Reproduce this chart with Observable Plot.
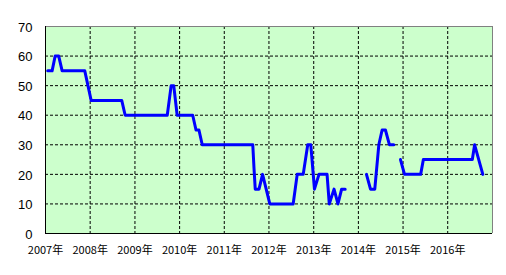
<!DOCTYPE html>
<html><head><meta charset="utf-8">
<script src="https://cdn.jsdelivr.net/npm/d3@7"></script>
<script src="https://cdn.jsdelivr.net/npm/@observablehq/plot@0.6"></script>
<style>html,body{margin:0;padding:0;background:#fff}</style>
</head><body><div id="chart"></div>
<script>
const dates = ["2007-01-19","2007-02-24","2007-03-21","2007-04-19","2007-05-17","2007-11-18",
  "2008-01-09","2008-09-15","2008-10-13",
  "2009-09-22","2009-10-24","2009-11-14","2009-12-12",
  "2010-04-18","2010-05-15","2010-06-08","2010-07-05",
  "2011-08-22","2011-09-01","2011-09-11","2011-10-12","2011-11-10",
  "2012-01-08","2012-07-17","2012-08-19","2012-10-07","2012-11-13","2012-12-08",
  "2013-01-07","2013-02-13","2013-04-20","2013-05-08","2013-06-16","2013-07-18","2013-08-17","2013-09-15",
  "2013-12-01",
  "2014-03-08","2014-04-10","2014-05-15","2014-06-17","2014-07-14","2014-08-10","2014-09-12","2014-10-17",
  "2014-11-15",
  "2014-12-11","2015-01-13","2015-05-25","2015-06-16","2016-07-20","2016-08-08","2016-10-14"];
const values = [55,55,60,60,55,55,
  45,45,40,
  40,50,50,40,
  40,35,35,30,
  30,22,15,15,20,
  10,10,20,20,30,30,
  15,20,20,10,15,10,15,15,
  null,
  20,15,15,30,35,35,30,30,
  null,
  25,20,20,25,25,30,20];
const years = [2007,2008,2009,2010,2011,2012,2013,2014,2015,2016];
const yTicks = [0,10,20,30,40,50,60,70];
const yearSuffix = "年";

const data = dates.map((d, i) => ({date: new Date(d + "T00:00:00Z"), value: values[i]}));
const yearDate = y => new Date(Date.UTC(y, 0, 1));
const xStart = yearDate(2007), xEnd = yearDate(2017);

const chart = Plot.plot({
  width: 506, height: 275,
  marginLeft: 45, marginRight: 14, marginTop: 26, marginBottom: 42,
  style: {background: "#fff", fontFamily: "'Liberation Sans', Arial, sans-serif", fontSize: "12px", color: "#000"},
  x: {type: "utc", domain: [xStart, xEnd]},
  y: {domain: [0, 70]},
  marks: [
    Plot.frame({fill: "#CCFFCC", stroke: null}),
    Plot.ruleX(years.slice(1).map(yearDate), {stroke: "#000", strokeDasharray: "3,2"}),
    Plot.ruleY(yTicks.slice(1, -1), {stroke: "#000", strokeDasharray: "3,2"}),
    Plot.ruleY([70], {stroke: "#808080"}),
    Plot.ruleX([xEnd], {stroke: "#808080"}),
    Plot.ruleX([xStart], {stroke: "#000"}),
    Plot.ruleY([0], {stroke: "#000"}),
    Plot.line(data, {x: "date", y: "value", stroke: "#0000FF", strokeWidth: 3}),
    Plot.axisX({ticks: years.map(yearDate), tickFormat: d => d.getUTCFullYear() + yearSuffix,
      tickSize: 0, tickPadding: 13, fontSize: 11, fontFamily: "'Noto Sans CJK JP', sans-serif", label: null}),
    Plot.axisY({ticks: yTicks, tickSize: 0, tickPadding: 13, fontSize: 13, dy: 1, label: null})
  ]
});
document.getElementById("chart").appendChild(chart);
</script>
</body></html>
